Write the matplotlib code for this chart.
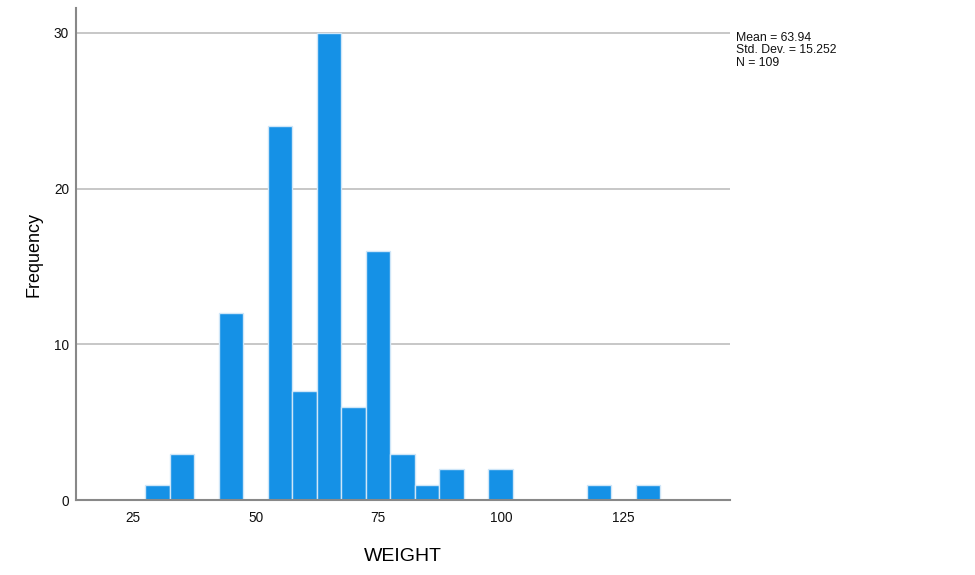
import numpy as np
import matplotlib.pyplot as plt

plt.rcParams['font.family'] = ['Liberation Sans', 'DejaVu Sans']

# Histogram bins (centres, width 5) and counts.
bin_centers = [30, 35, 45, 55, 60, 65, 70, 75, 80, 85, 90, 100, 120, 130]
counts = [1, 3, 12, 24, 7, 30, 6, 16, 3, 1, 2, 2, 1, 1]
bin_width = 5
x_ticks = [25, 50, 75, 100, 125]
y_ticks = [0, 10, 20, 30]
stats_text = "Mean = 63.94\nStd. Dev. = 15.252\nN = 109"

fig = plt.figure(figsize=(9.75, 5.75), dpi=100)
ax = fig.add_axes([0.078, 0.130, 0.671, 0.856])

ax.set_axisbelow(True)
ax.yaxis.grid(True, color='#bdbdbd', linewidth=1.2)
ax.bar(bin_centers, counts, width=bin_width, color='#1591e6',
       edgecolor='#cfe6f8', linewidth=1.0)

ax.set_xlim(13.4, 146.8)
ax.set_ylim(0, 31.6)
ax.set_xticks(x_ticks)
ax.set_yticks(y_ticks)
ax.tick_params(length=0, labelsize=9.8, colors='#111111')
ax.tick_params(axis='x', pad=8)
ax.tick_params(axis='y', pad=5)

for side in ['top', 'right']:
    ax.spines[side].set_visible(False)
for side in ['left', 'bottom']:
    ax.spines[side].set_color('#888888')
    ax.spines[side].set_linewidth(1.5)

ax.set_xlabel('WEIGHT', fontsize=14, labelpad=16, color='black')
ax.set_ylabel('Frequency', fontsize=13, color='black')
ax.yaxis.set_label_coords(-0.052, 0.5)

fig.text(0.755, 0.945, stats_text, fontsize=8.8, va='top', ha='left',
         linespacing=1.05, color='#111111')

plt.savefig('out.png', dpi=100)
